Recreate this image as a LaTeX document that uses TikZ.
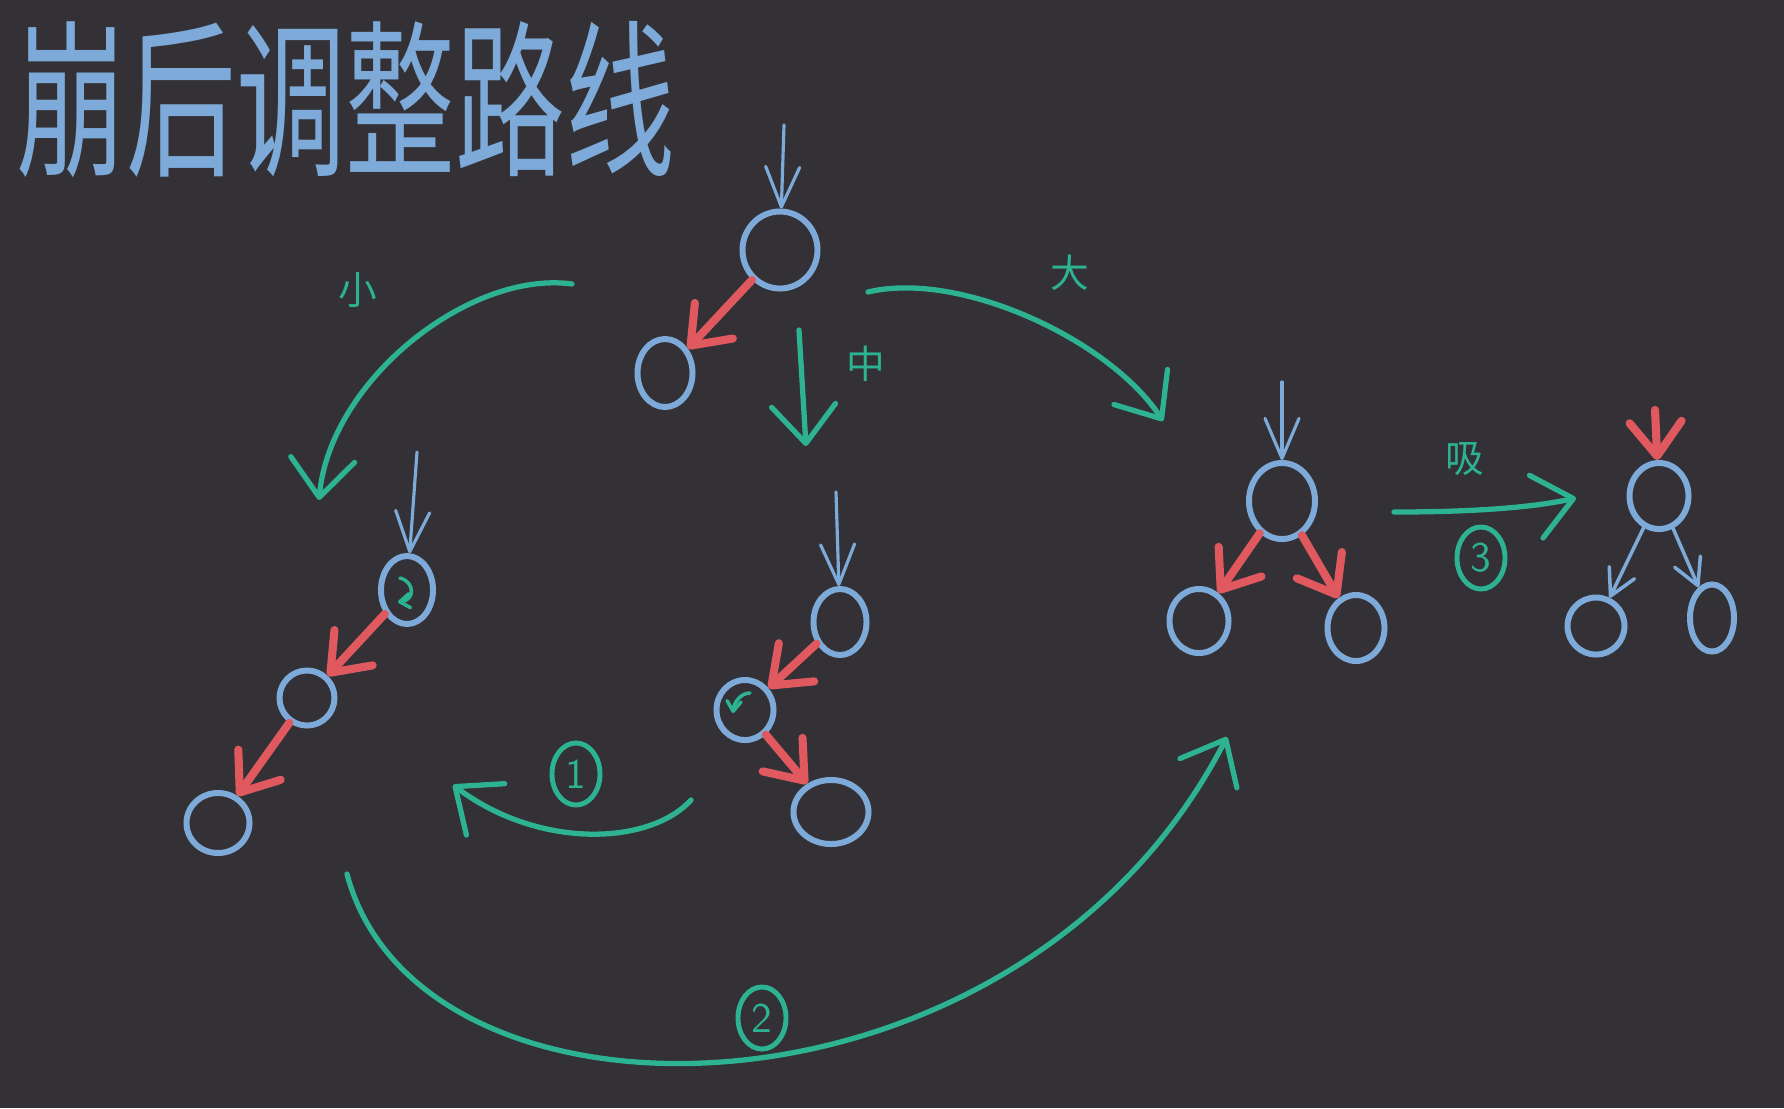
\documentclass[tikz,border=0pt]{standalone}
\usepackage{fontspec}
\newfontfamily\cjk{Noto Sans CJK SC}
\usetikzlibrary{arrows.meta,shapes.geometric}
\definecolor{bgDark}{HTML}{333135}
\definecolor{nBlue}{HTML}{7DAAD9}
\definecolor{eRed}{HTML}{E0595E}
\definecolor{pGreen}{HTML}{2DB392}

\begin{document}
\begin{tikzpicture}[x=0.01cm, y=-0.01cm, line cap=round,
  tnode/.style={draw=nBlue, line width=1.7pt, ellipse, inner sep=0pt},
  sz/.style 2 args={minimum width=#1, minimum height=#2},
  inarr/.style={-{Straight Barb[length=4mm, width=3.4mm, round]}, draw=nBlue, line width=0.9pt},
  subarr/.style={-{Straight Barb[length=2.6mm, width=2.8mm, round]}, draw=nBlue, line width=1pt},
  redarr/.style={-{Straight Barb[length=3.4mm, width=5.2mm, round]}, draw=eRed, line width=2.3pt},
  route/.style={-{Straight Barb[length=3.8mm, width=6.4mm, round]}, draw=pGreen, line width=1.5pt},
  turn/.style={-{Straight Barb[length=1mm, width=1.4mm, round]}, draw=pGreen, line width=1pt},
  tag/.style={text=pGreen, font=\cjk\fontsize{11}{13}\selectfont},
  circnum/.style={draw=pGreen, ellipse, line width=1.4pt, minimum width=4.8mm, minimum height=6.2mm, inner sep=0pt, text=pGreen, font=\sffamily\fontsize{12}{14}\selectfont},
  title/.style={text=nBlue, font=\cjk\fontsize{30}{30}\selectfont, inner sep=0pt}
]
  \useasboundingbox (0,0) rectangle (1784,1108);
  \fill[bgDark] (0,0) rectangle (1784,1108);
  \node[title, anchor=west] (ttl) at (16,100) {\scalebox{1.04}[1.6]{崩后调整路线}};

  % starting tree
  \node[tnode, sz={7.5mm}{7.7mm}] (troot) at (780,250) {};
  \node[tnode, sz={5.5mm}{6.8mm}] (tleft) at (665,373) {};
  \coordinate (tin) at (784,125);
  \draw[inarr] (tin) -- (troot);
  \draw[redarr] (troot) -- (tleft);

  % case small
  \node[tnode, sz={5.2mm}{6.8mm}] (lroot) at (407,590) {};
  \node[tnode, sz={5.5mm}{5.5mm}] (lmid) at (307,698) {};
  \node[tnode, sz={6.3mm}{6.0mm}] (lbot) at (218,823) {};
  \coordinate (lin) at (417,452);
  \draw[inarr] (lin) -- (lroot);
  \draw[redarr] (lroot) -- (lmid);
  \draw[redarr] (lmid) -- (lbot);
  \draw[turn, shift={(lroot)}] (-7,-12) .. controls (8,-8) and (8,10) .. (-9,12);

  % case middle
  \node[tnode, sz={5.3mm}{6.6mm}] (mroot) at (840,622) {};
  \node[tnode, sz={5.7mm}{6.0mm}] (mmid) at (745,710) {};
  \node[tnode, sz={7.5mm}{6.4mm}] (mbot) at (831,812) {};
  \coordinate (min) at (836,492);
  \draw[inarr] (min) -- (mroot);
  \draw[redarr] (mroot) -- (mmid);
  \draw[redarr] (mmid) -- (mbot);
  \draw[turn, shift={(mmid)}] (5,-17) .. controls (-4,-17) and (-11,-8) .. (-12,3);

  % case large
  \node[tnode, sz={6.6mm}{7.6mm}] (rroot) at (1282,501) {};
  \node[tnode, sz={5.9mm}{6.4mm}] (rleft) at (1199,621) {};
  \node[tnode, sz={5.7mm}{6.6mm}] (rright) at (1356,628) {};
  \coordinate (rin) at (1282,382);
  \draw[inarr] (rin) -- (rroot);
  \draw[redarr] (rroot) -- (rleft);
  \draw[redarr] (rroot) -- (rright);

  % after absorbing
  \node[tnode, sz={5.9mm}{6.6mm}] (froot) at (1659,496) {};
  \node[tnode, sz={5.7mm}{5.7mm}] (fleft) at (1596,626) {};
  \node[tnode, sz={4.4mm}{6.7mm}] (fright) at (1712,618) {};
  \coordinate (fin) at (1655,410);
  \draw[redarr] (fin) -- (froot);
  \draw[subarr] (froot) -- (fleft);
  \draw[subarr] (froot) -- (fright);

  % routes
  \coordinate (smallA) at (572,284);
  \coordinate (smallB) at (319,500);
  \draw[route] (smallA) .. controls (470,270) and (330,380) .. (smallB);
  \node[tag] (smallT) at (358,290) {小};

  \coordinate (midA) at (799,330);
  \coordinate (midB) at (806,446);
  \draw[route] (midA) -- (midB);
  \node[tag] (midT) at (866,364) {中};

  \coordinate (bigA) at (868,292);
  \coordinate (bigB) at (1163,421);
  \draw[route] (bigA) .. controls (960,270) and (1110,340) .. (bigB);
  \node[tag] (bigT) at (1070,273) {大};

  \coordinate (oneA) at (691,800);
  \coordinate (oneB) at (453,785);
  \draw[route] (oneA) .. controls (650,845) and (540,850) .. (oneB);
  \node[circnum] (oneT) at (576,774) {1};

  \coordinate (twoA) at (347,874);
  \coordinate (twoB) at (1227,737);
  \draw[route] (twoA) .. controls (420,1150) and (1020,1140) .. (twoB);
  \node[circnum] (twoT) at (762,1018) {2};

  \coordinate (absA) at (1394,512);
  \coordinate (absB) at (1576,498);
  \draw[route] (absA) .. controls (1470,512) and (1530,508) .. (absB);
  \node[tag] (absT) at (1465,459) {吸};
  \node[circnum] (threeT) at (1481,558) {3};
\end{tikzpicture}
\end{document}
